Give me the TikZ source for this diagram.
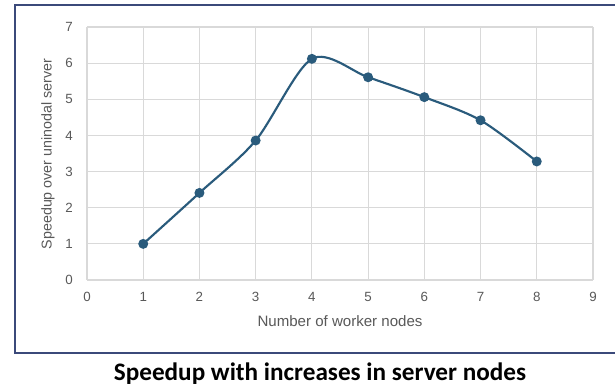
\documentclass[tikz,border=0pt]{standalone}
\usepackage{fontspec}
\setmainfont{Liberation Sans}
\newfontfamily\titlefont{Carlito}
\definecolor{framecol}{HTML}{3B4A7A}
\definecolor{gridcol}{HTML}{D9D9D9}
\definecolor{linecol}{HTML}{2A5B7C}
\definecolor{textcol}{HTML}{595959}
\begin{document}
\begin{tikzpicture}[x=0.75pt,y=-0.75pt,
  gridline/.style={draw=gridcol,line width=0.9pt},
  ticklab/.style={text=textcol,font=\fontsize{10}{12}\selectfont,inner sep=0pt},
  axtitle/.style={text=textcol,inner sep=0pt},
  datapt/.style={circle,fill=linecol,inner sep=0pt,minimum size=7.5pt},
  curve/.style={draw=linecol,line width=1.6pt}]
\useasboundingbox[fill=white] (0,0) rectangle (615,387);
% frame
\draw[framecol,line width=2pt] (615,5) -- (15,5) -- (15,353) -- (615,353);
% grid
\foreach \i in {0,...,9} {
  \draw[gridline] ({87+56.22*\i},27) -- ({87+56.22*\i},280);
  \node[ticklab] (xt\i) at ({87+56.22*\i},297) {\i};
}
\foreach \j in {0,...,7} {
  \draw[gridline] (87,{280-36.14*\j}) -- (593,{280-36.14*\j});
  \node[ticklab] (yt\j) at (69,{280-36.14*\j}) {\j};
}
% axis titles
\node[axtitle,font=\fontsize{11.3}{13}\selectfont] (xtitle) at (340,321) {Number of worker nodes};
\node[axtitle,font=\fontsize{10.7}{13}\selectfont,rotate=90] (ytitle) at (48,154) {Speedup over uninodal server};
% data
\draw[curve] plot[smooth,tension=0.5] coordinates {
  ({87+56.22*1},{280-36.14*1})
  ({87+56.22*2},{280-36.14*2.41})
  ({87+56.22*3},{280-36.14*3.86})
  ({87+56.22*4},{280-36.14*6.12})
  ({87+56.22*5},{280-36.14*5.61})
  ({87+56.22*6},{280-36.14*5.06})
  ({87+56.22*7},{280-36.14*4.42})
  ({87+56.22*8},{280-36.14*3.28})};
\node[datapt] (p1) at ({87+56.22*1},{280-36.14*1}) {};
\node[datapt] (p2) at ({87+56.22*2},{280-36.14*2.41}) {};
\node[datapt] (p3) at ({87+56.22*3},{280-36.14*3.86}) {};
\node[datapt] (p4) at ({87+56.22*4},{280-36.14*6.12}) {};
\node[datapt] (p5) at ({87+56.22*5},{280-36.14*5.61}) {};
\node[datapt] (p6) at ({87+56.22*6},{280-36.14*5.06}) {};
\node[datapt] (p7) at ({87+56.22*7},{280-36.14*4.42}) {};
\node[datapt] (p8) at ({87+56.22*8},{280-36.14*3.28}) {};
% title
\node[inner sep=0pt,font=\titlefont\bfseries\fontsize{18.9}{22}\selectfont] (title) at (320,374) {Speedup with increases in server nodes};
\end{tikzpicture}
\end{document}
